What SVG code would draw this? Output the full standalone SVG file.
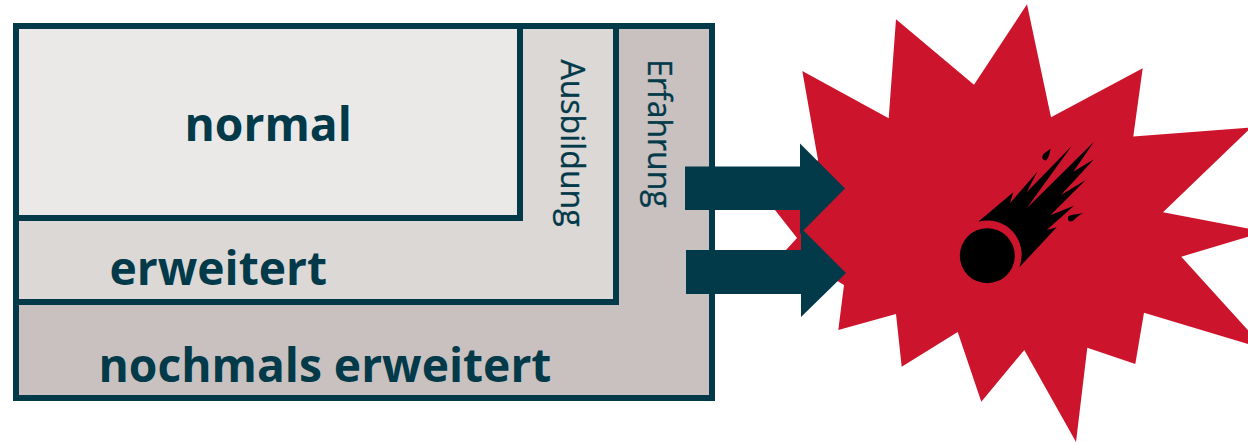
<svg xmlns="http://www.w3.org/2000/svg" width="1248" height="442" viewBox="0 0 1248 442">
<style>
.box{stroke:#023a4a;stroke-width:6}
.t{font-family:"Open Sans","Liberation Sans",sans-serif;fill:#023a4a}
.b{font-weight:700;font-size:46.200px}
.v{font-size:32px;stroke:#023a4a;stroke-width:.3px}
.ar{fill:#023a4a}
</style>
<rect width="1248" height="442" fill="#fff"/>
<g id="star"><polygon fill="#cc152d" points="1027,4.300 1051,117.300 1142.700,68.300 1133.300,136.500 1251,127.500 1163,212.300 1265,231.700 1181.300,256.700 1265,349 1144,312.700 1135.300,364 1087.300,347.700 1076,442 1024.300,350 981.300,401.700 957.700,332 901.700,366.700 896,314 838.300,330 844,285 786,250 797,238 775,210 818,160 802.300,71 888.700,118.300 896,19.300 974,84.700"/></g>
<g id="nochmals"><rect class="box" x="16" y="26" width="696" height="372" fill="#c9c1bf"/><text class="t b" x="98.500" y="382">nochmals erweitert</text></g>
<g id="erweitert"><rect class="box" x="16" y="26" width="600" height="276" fill="#dcd8d6"/><text class="t b" x="109.500" y="285">erweitert</text></g>
<g id="normal"><rect class="box" x="16" y="26" width="504" height="192" fill="#ebe9e8"/><text class="t b" x="184.500" y="141">normal</text></g>
<g id="ausbildung"><text class="t v" transform="translate(560.500,59.500) rotate(90)">Ausbildung</text></g>
<g id="erfahrung"><text class="t v" transform="translate(648,59) rotate(90)">Erfahrung</text></g>
<g id="connectors">
<polygon class="ar" points="685,166.500 800,166.500 800,143.500 845,188.500 800,234 800,210 685,210"/>
<polygon class="ar" points="686,250 801,250 801,228 846,273 801,317 801,294 686,294"/>
</g>
<g id="meteor">
<circle cx="987.300" cy="255.700" r="27.500"/>
<path d="M978.300,221.700L1013.300,192.300L1010,203.300L1037.300,171.700L1026.700,192.300L1071.700,146L1026.700,208.300L1094,141.700L1073.300,171.700L1094,159.300L1061,195L1085.700,180L1050.700,215L1074,205.700L1046.700,230L1056.700,227.300L1019.300,267.300A34.300,34.300 0 0 0 978.300,221.700Z"/>
<path d="M1051,148.500C1049,152 1050.500,156 1046,160.500C1041,160 1042,155 1044,153.500Z"/>
<path d="M1083.500,213C1080,214.500 1077,217 1075,219C1072,223 1067,222 1068,217C1069,215 1072,215 1083.500,213Z"/>
</g>
</svg>
